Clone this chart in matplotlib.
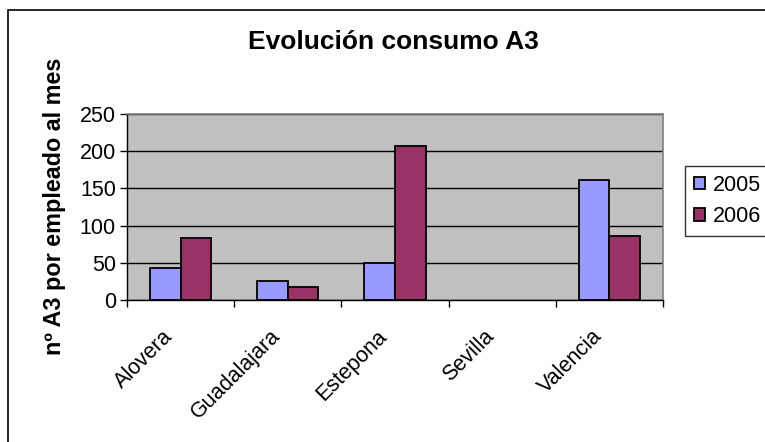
import numpy as np
import matplotlib
matplotlib.use('Agg')
import matplotlib.pyplot as plt
from matplotlib.patches import Rectangle

plt.rcParams['font.family'] = ['Liberation Sans', 'DejaVu Sans']

# Data
cities = ['Alovera', 'Guadalajara', 'Estepona', 'Sevilla', 'Valencia']
years = ['2005', '2006']
vals_2005 = [43, 26, 50, 0, 161]
vals_2006 = [83, 18, 207, 0, 86]
colors = ['#9999FF', '#993366']

fig = plt.figure(figsize=(7.65, 4.42), dpi=100)
ax = fig.add_axes([127 / 765, 1 - 300 / 442, (663 - 127) / 765, (300 - 114) / 442])

x = np.arange(len(cities))
w = 0.286
for i, (vals, off) in enumerate([(vals_2005, -w / 2), (vals_2006, w / 2)]):
    lw = [1.3 if v > 0 else 0 for v in vals]
    ax.bar(x + off, vals, w, color=colors[i], edgecolor='black', linewidth=lw,
           label=years[i], zorder=3)

ax.set_facecolor('#C0C0C0')
ax.set_xlim(-0.5, len(cities) - 0.5)
ax.set_ylim(0, 250)
ax.set_yticks(np.arange(0, 251, 50))
ax.yaxis.grid(True, color='black', linewidth=1, zorder=1)
ax.set_axisbelow(True)

# category boundaries as ticks, labels slightly left of centers (Excel style)
ax.set_xticks(np.arange(-0.5, len(cities), 1))
ax.set_xticklabels([])
ax.set_xticks(x - 0.1, minor=True)
ax.set_xticklabels(cities, minor=True, rotation=45, ha='right', va='center',
                   rotation_mode='anchor', fontsize=15.5)
ax.tick_params(axis='x', which='minor', length=0, pad=24)
ax.tick_params(axis='x', which='major', length=5, width=1, direction='out')
ax.tick_params(axis='y', length=5, width=1, labelsize=15.5, pad=3)

for s in ['top', 'right']:
    ax.spines[s].set_color('#808080')
    ax.spines[s].set_linewidth(1.2)
for s in ['left', 'bottom']:
    ax.spines[s].set_color('black')
    ax.spines[s].set_linewidth(1)

fig.text(0.071, 1 - 206 / 442, 'nº A3 por empleado al mes', rotation=90,
         ha='center', va='center', fontsize=16.8, fontweight='bold')
fig.text(0.514, 1 - 42 / 442, 'Evolución consumo A3', ha='center', va='center',
         fontsize=19, fontweight='bold')

leg = ax.legend(loc='center left', bbox_to_anchor=(685 / 765, 1 - 201 / 442),
                bbox_transform=fig.transFigure, fontsize=15.5, frameon=True,
                fancybox=False, edgecolor='black', handlelength=0.55,
                handleheight=0.55, handletextpad=0.35, borderpad=0.4,
                labelspacing=0.5, borderaxespad=0)
leg.get_frame().set_linewidth(1)

# outer chart border
fig.patches.append(Rectangle((8 / 765, -0.1), 1.2, 1 - 10 / 442 + 0.1,
                             transform=fig.transFigure, fill=False,
                             edgecolor='black', linewidth=1.2))

fig.savefig('out.png', dpi=100)
